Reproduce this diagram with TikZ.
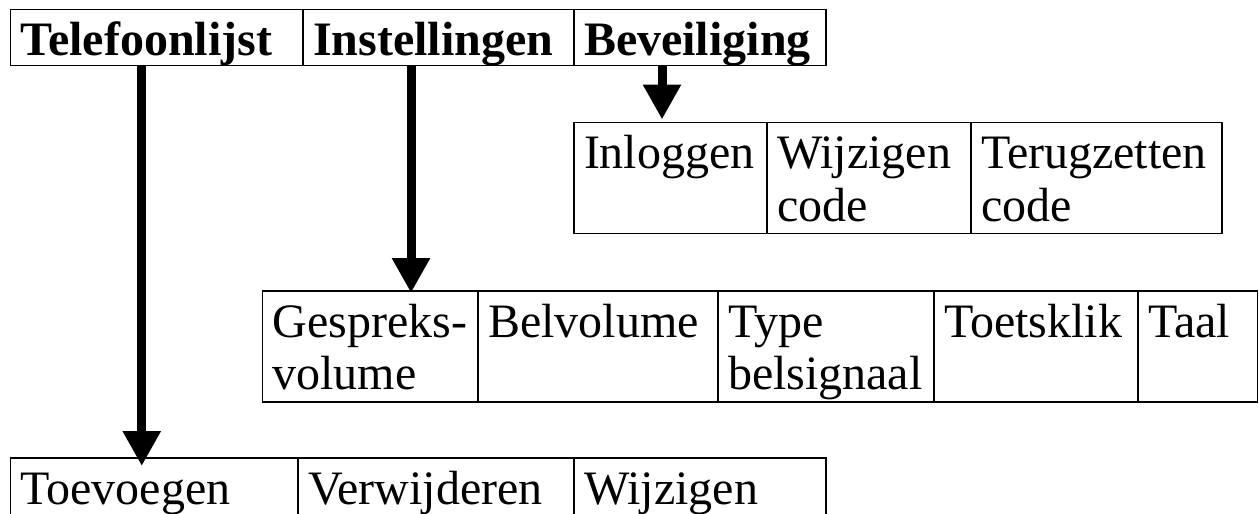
\documentclass[tikz,border=0pt]{standalone}
\usepackage{fontspec}
\setmainfont{Liberation Serif}
\usepackage{tikz}
\usetikzlibrary{positioning, arrows.meta}
\tikzstyle{cell}    = [rectangle, draw=black, line width=1.2pt, outer sep=0pt, inner xsep=10pt, inner ysep=0pt, align=left, text height=46pt, anchor=north west, font=\fontsize{48}{52.5}\selectfont]
\tikzstyle{menu}    = [cell, text depth=10pt, font=\fontsize{48}{52.5}\selectfont\bfseries]
\tikzstyle{submenu} = [cell, text depth=65pt]
\tikzstyle{lastrow} = [cell, text depth=30pt]

\begin{document}
\begin{tikzpicture}[x=1pt, y=-1pt, >={Triangle[width=36pt, length=35pt]}]
            \useasboundingbox (0,0) rectangle (1259,514);
            \clip (0,0) rectangle (1259,514);

            % hoofdmenu
            \node[menu, text width=272.5pt] (tele) at (10.5,9.5)      {Telefoonlijst};
            \node[menu, text width=251pt]   (inst) [right=0pt of tele] {Instellingen};
            \node[menu, text width=232pt]   (bev)  [right=0pt of inst] {Beveiliging};

            % beveiliging
            \node[submenu, text width=173pt] (inlog)    at (574,122.5)          {Inloggen};
            \node[submenu, text width=184pt] (wijzcode) [right=0pt of inlog]    {Wijzigen\\code};
            \node[submenu, text width=231pt] (terug)    [right=0pt of wijzcode] {Terugzetten\\code};

            % instellingen
            \node[submenu, text width=195.5pt] (gespr)  at (262.5,291)         {Gespreks-\\volume};
            \node[submenu, text width=220pt]   (belvol) [right=0pt of gespr]  {Belvolume};
            \node[submenu, text width=196pt]   (type)   [right=0pt of belvol] {Type\\belsignaal};
            \node[submenu, text width=184pt]   (toets)  [right=0pt of type]   {Toetsklik};
            \node[submenu, text width=99.5pt]  (taal)   [right=0pt of toets]  {Taal};

            % telefoonlijst
            \node[lastrow, text width=267.5pt] (toev) at (10.5,458)        {Toevoegen};
            \node[lastrow, text width=256pt]   (verw) [right=0pt of toev] {Verwijderen};
            \node[lastrow, text width=232pt]   (wijz) [right=0pt of verw] {Wijzigen};

            \coordinate (teleA) at ([xshift=-15pt]tele.south);
            \coordinate (instA) at ([xshift=-27.5pt]inst.south);
            \coordinate (bevA)  at ([xshift=-38pt]bev.south);

            \draw[->, line width=9pt, shorten >=-8pt] (teleA) -- (teleA |- toev.north);
            \draw[->, line width=9pt, shorten >=-2pt] (instA) -- (instA |- gespr.north);
            \draw[->, line width=9pt, shorten >=3pt]  (bevA)  -- (bevA |- inlog.north);
        \end{tikzpicture}
\end{document}
